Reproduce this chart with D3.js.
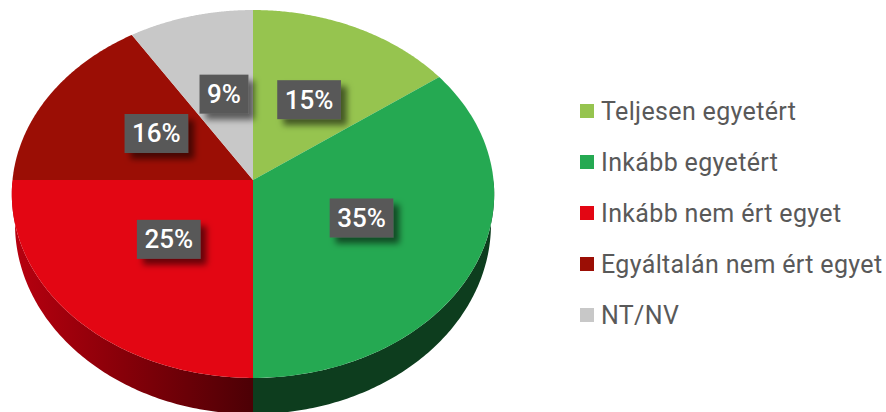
<!DOCTYPE html>
<html><head><meta charset="utf-8">
<script src="https://cdnjs.cloudflare.com/ajax/libs/d3/7.8.5/d3.min.js"></script>
<style>html,body{margin:0;padding:0;background:#fff}svg{display:block}</style>
</head><body><svg id="c" width="886" height="412"></svg>
<script>
const categories = ["Teljesen egyetért","Inkább egyetért","Inkább nem ért egyet","Egyáltalán nem ért egyet","NT/NV"];
const values = [15,35,25,16,9];
const colors = ["#96c44f","#25a952","#e30613","#9b0e05","#c8c8c8"];
const FONT = "Roboto, sans-serif";

const svg = d3.select("#c");
const W = { cx:253, cy:180, a:240.5, b:182.9, k:-0.076 };
const B = { cx:253, cy:209.5, a:237.3, b:189, k:-0.076 };
const project = (g, t, f=1) => {
  const u = Math.sin(t), v = -Math.cos(t), d = 1 + g.k*v;
  return [g.cx + f*g.a*u/d, g.cy + f*g.b*v/d];
};
const slices = d3.pie().sort(null).value(d=>d)(values);
const samples = (s,e) => d3.range(0,121).map(i => s + (e-s)*i/120);

const defs = svg.append("defs");
const grad = defs.append("linearGradient").attr("id","redSide").attr("gradientUnits","userSpaceOnUse")
  .attr("x1",12).attr("x2",253).attr("y1",0).attr("y2",0);
[[0,"#b8000f"],[0.45,"#880009"],[1,"#4c0005"]].forEach(([o,c])=>grad.append("stop").attr("offset",o).attr("stop-color",c));
const f = defs.append("filter").attr("id","sh").attr("x","-30%").attr("y","-30%").attr("width","170%").attr("height","170%");
f.append("feDropShadow").attr("dx",6).attr("dy",6).attr("stdDeviation",3.2).attr("flood-color","#000").attr("flood-opacity",0.55);

// side wall
const area = d3.area().x0(t=>project(W,t)[0]).y0(t=>project(W,t)[1]).x1(t=>project(B,t)[0]).y1(t=>project(B,t)[1]);
const sideFill = ["#0d3d1e","#0d3d1e","url(#redSide)","#4c0005","#4c0005"];
slices.forEach((s,i)=>{
  const st = Math.max(s.startAngle, Math.PI/2), en = Math.min(s.endAngle, 1.5*Math.PI);
  if (en <= st) return;
  svg.append("path").attr("d",area(samples(st,en))).attr("fill",sideFill[i]);
});

// top face
const line = d3.line();
svg.append("g").selectAll("path").data(slices).join("path")
  .attr("fill",(d,i)=>colors[i])
  .attr("d",d=>line([[W.cx,W.cy],...samples(d.startAngle,d.endAngle).map(t=>project(W,t))])+"Z");

// labels: placed along the slice bisector, with a small hand adjustment
const labelNudgeX = [7,2,2,1,1];
const labelNudgeY = [1,0,-4,1,1];
const labels = svg.append("g").selectAll("g").data(slices).join("g");
labels.each(function(d,i){
  const g = d3.select(this), mid = (d.startAngle+d.endAngle)/2, p = project(W,mid);
  const x = W.cx + (p[0]-W.cx)*0.48 + labelNudgeX[i], y = W.cy + (p[1]-W.cy)*0.5 - 5 + labelNudgeY[i];
  const rect = g.append("rect").attr("fill","#595959").attr("filter","url(#sh)");
  const t = g.append("text").text(values[i]+"%").attr("x",x).attr("y",y+9)
    .attr("text-anchor","middle").attr("fill","#fff")
    .attr("font-family",FONT).attr("font-size",26).attr("font-weight",500);
  const w = t.node().getComputedTextLength()+15;
  rect.attr("x",x-w/2).attr("y",y-19.5).attr("width",w).attr("height",39);
});

// legend
const ly = d3.scalePoint().domain(categories).range([120,324]);
const leg = svg.append("g").selectAll("g").data(categories).join("g");
leg.append("rect").attr("x",580).attr("y",d=>ly(d)-16).attr("width",14).attr("height",14).attr("fill",(d,i)=>colors[i]);
leg.append("text").text(d=>d).attr("x",601).attr("y",d=>ly(d)).attr("fill","#595959")
  .attr("font-family",FONT).attr("font-size",25).attr("letter-spacing",0.35);
</script></body></html>
